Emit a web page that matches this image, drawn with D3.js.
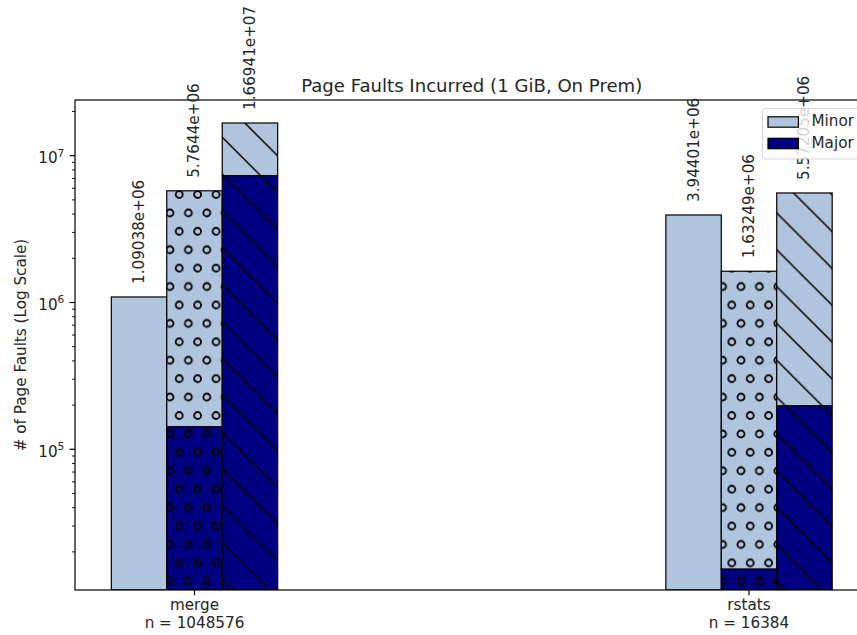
<!DOCTYPE html>
<html>
<head>
<meta charset="utf-8">
<script src="https://cdn.jsdelivr.net/npm/d3@7"></script>
<style>
  body { margin: 0; background: #fff; }
  svg { display: block; font-family: "DejaVu Sans", sans-serif; }
</style>
</head>
<body>
<svg id="chart" width="857" height="635"></svg>
<script>
// Data
var groups = ["merge", "rstats"];
var groupN = [1048576, 16384];
var variants = ["plain", "circles", "backslash"];
var legendNames = ["Minor", "Major"];

// Total page faults per bar (minor + major)
var mergeTotals = [1090380, 5764400, 16694100];
var rstatsTotals = [3944010, 1632490, 5572050];

// Major page faults per bar (0 = none)
var mergeMajor = [0, 142500, 7310000];
var rstatsMajor = [0, 15300, 198000];

var yTicks = [1e5, 1e6, 1e7];

// Sizes (note: 'top' is a reserved window global, so prefix these)
var width = 857, height = 635;
var plotLeft = 75, plotTop = 100, plotBottom = 590, plotRight = 868.5;
var barWidth = 0.1;
var lightColor = "#b0c4de", darkColor = "#000080";

var totals = [mergeTotals, rstatsTotals];
var majors = [mergeMajor, rstatsMajor];

// one row per bar
var bars = [];
groups.forEach(function(g, gi) {
    variants.forEach(function(v, vi) {
        bars.push({
            group: g, gi: gi, variant: v, vi: vi,
            total: totals[gi][vi],
            major: majors[gi][vi]
        });
    });
});

var x = d3.scaleLinear().domain([-0.2155, 1.2155]).range([plotLeft, plotRight]);
var y = d3.scaleLog().domain([11000, 23950000]).range([plotBottom, plotTop]).clamp(true);

var svg = d3.select("#chart");
svg.append("rect").attr("width", width).attr("height", height).attr("fill", "#fff");

var defs = svg.append("defs");

// clip for the plot area
defs.append("clipPath").attr("id", "plotClip")
    .append("rect")
    .attr("x", plotLeft).attr("y", plotTop)
    .attr("width", plotRight - plotLeft).attr("height", plotBottom - plotTop);

// 'o' hatch: rows of small rings, every other row shifted
var cs = 18.42;
var pO = defs.append("pattern")
    .attr("id", "hatch-circles")
    .attr("patternUnits", "userSpaceOnUse")
    .attr("width", cs).attr("height", 2 * cs)
    .attr("patternTransform", "translate(4.2,28.7)");
[[0, 0], [cs, 0], [0, 2 * cs], [cs, 2 * cs], [cs / 2, cs]].forEach(function(p) {
    pO.append("circle")
        .attr("cx", p[0]).attr("cy", p[1]).attr("r", 3.5)
        .attr("fill", "none").attr("stroke", "#000").attr("stroke-width", 1.8);
});

// '\' hatch: diagonal lines
var ds = 36.83;
defs.append("pattern")
    .attr("id", "hatch-backslash")
    .attr("patternUnits", "userSpaceOnUse")
    .attr("width", ds).attr("height", ds)
    .attr("patternTransform", "translate(0,25.5)")
    .append("path")
    .attr("d", "M-2,-2L" + (ds + 2) + "," + (ds + 2) +
               "M-2," + (ds - 2) + "L2," + (ds + 2) +
               "M" + (ds - 2) + ",-2L" + (ds + 2) + ",2")
    .attr("stroke", "#000").attr("stroke-width", 1.5).attr("fill", "none");

var hatchFill = { plain: null, circles: "url(#hatch-circles)", backslash: "url(#hatch-backslash)" };

var plot = svg.append("g").attr("clip-path", "url(#plotClip)");

function barX(d) { return x(d.gi + (d.vi - 1) * barWidth - barWidth / 2); }
var bw = x(barWidth) - x(0);

// stacked segments: major at the bottom, minor on top
var segments = [];
bars.forEach(function(d) {
    var floor = y.domain()[0];
    if (d.major > 0) {
        segments.push({ bar: d, y0: floor, y1: d.major, color: darkColor });
    }
    segments.push({ bar: d, y0: d.major > 0 ? d.major : floor, y1: d.total, color: lightColor });
});

segments.forEach(function(s) {
    var sx = barX(s.bar), sy = y(s.y1), sh = y(s.y0) - y(s.y1);
    plot.append("rect")
        .attr("x", sx).attr("y", sy).attr("width", bw).attr("height", sh)
        .attr("fill", s.color);
    if (hatchFill[s.bar.variant]) {
        plot.append("rect")
            .attr("x", sx).attr("y", sy).attr("width", bw).attr("height", sh)
            .attr("fill", hatchFill[s.bar.variant]);
    }
    plot.append("rect")
        .attr("x", sx).attr("y", sy).attr("width", bw).attr("height", sh)
        .attr("fill", "none").attr("stroke", "#000").attr("stroke-width", 1.2);
});

// spines
svg.append("rect")
    .attr("x", plotLeft).attr("y", plotTop)
    .attr("width", plotRight - plotLeft).attr("height", plotBottom - plotTop)
    .attr("fill", "none").attr("stroke", "#000").attr("stroke-width", 1.2);

// y ticks (major + minor)
var minorTicks = y.ticks(10).filter(function(t) {
    return Math.abs(Math.log10(t) - Math.round(Math.log10(t))) > 1e-6;
});
minorTicks.forEach(function(t) {
    svg.append("line")
        .attr("x1", plotLeft - 3).attr("x2", plotLeft)
        .attr("y1", y(t)).attr("y2", y(t))
        .attr("stroke", "#000").attr("stroke-width", 0.9);
});
yTicks.forEach(function(t) {
    svg.append("line")
        .attr("x1", plotLeft - 5.3).attr("x2", plotLeft)
        .attr("y1", y(t)).attr("y2", y(t))
        .attr("stroke", "#000").attr("stroke-width", 1.2);
    var lbl = svg.append("text")
        .attr("x", plotLeft - 10.7).attr("y", y(t) + 7.5)
        .attr("text-anchor", "end")
        .attr("font-size", "15.2px")
        .attr("fill", "#262626");
    lbl.append("tspan").text("10");
    lbl.append("tspan").attr("dy", -6.6).attr("font-size", "10.6px")
        .text(Math.round(Math.log10(t)));
});

// x ticks
groups.forEach(function(g, gi) {
    svg.append("line")
        .attr("x1", x(gi)).attr("x2", x(gi))
        .attr("y1", plotBottom).attr("y2", plotBottom + 5.3)
        .attr("stroke", "#000").attr("stroke-width", 1.2);
    var t = svg.append("text")
        .attr("text-anchor", "middle")
        .attr("font-size", "15.2px")
        .attr("fill", "#262626");
    t.append("tspan").attr("x", x(gi)).attr("y", 610).text(g);
    t.append("tspan").attr("x", x(gi)).attr("y", 628).text("n = " + groupN[gi]);
});

// axis label
svg.append("text")
    .attr("transform", "translate(21," + ((plotTop + plotBottom) / 2) + ") rotate(-90)")
    .attr("text-anchor", "middle")
    .attr("dominant-baseline", "central")
    .attr("font-size", "15.2px")
    .attr("fill", "#262626")
    .text("# of Page Faults (Log Scale)");

// title
svg.append("text")
    .attr("x", (plotLeft + plotRight) / 2).attr("y", 91.5)
    .attr("text-anchor", "middle")
    .attr("font-size", "18.1px")
    .attr("fill", "#262626")
    .text("Page Faults Incurred (1 GiB, On Prem)");

// value labels above bars, like python's %g
var fmt = d3.format(".6~e");
function gfmt(v) {
    return fmt(v).replace(/e([+-])(\d)$/, "e$10$2");
}
bars.forEach(function(d) {
    var cx = barX(d) + bw / 2;
    var ty = y(d.total) - 13;
    svg.append("text")
        .attr("transform", "translate(" + cx + "," + ty + ") rotate(-90)")
        .attr("dominant-baseline", "central")
        .attr("font-size", "15.2px")
        .attr("fill", "#262626")
        .text(gfmt(d.total));
});

// legend
var lg = svg.append("g");
lg.append("rect")
    .attr("x", 762.5).attr("y", 108.5)
    .attr("width", 97).attr("height", 50.5)
    .attr("rx", 3)
    .attr("fill", "#fff").attr("fill-opacity", 0.8)
    .attr("stroke", "#ccc").attr("stroke-opacity", 0.8);
legendNames.forEach(function(name, i) {
    var ly = 116.8 + i * 21.5;
    lg.append("rect")
        .attr("x", 768).attr("y", ly)
        .attr("width", 30.4).attr("height", 10.4)
        .attr("fill", i === 0 ? lightColor : darkColor)
        .attr("stroke", "#000").attr("stroke-width", 1.2);
    lg.append("text")
        .attr("x", 811.5).attr("y", ly + 9.4)
        .attr("font-size", "15.2px")
        .attr("fill", "#262626")
        .text(name);
});
</script>
</body>
</html>
